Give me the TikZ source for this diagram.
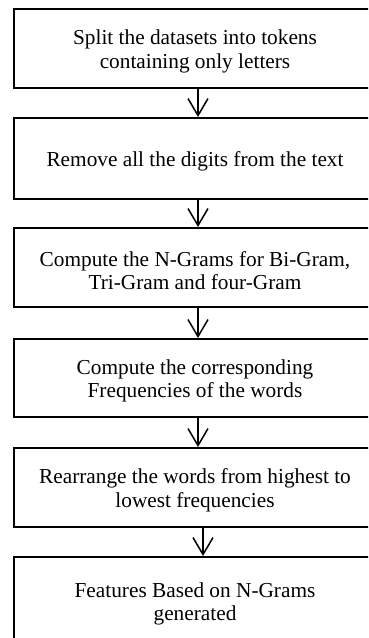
\documentclass[tikz,border=0pt]{standalone}
\usepackage{fontspec}
\setmainfont{Liberation Serif}
\usetikzlibrary{arrows.meta}
\begin{document}
\begin{tikzpicture}[x=1pt,y=1pt,
  stepbox/.style={draw, line width=2pt, rectangle, minimum width=362pt,
    minimum height=79pt, inner sep=0pt},
  steptext/.style={align=center, inner sep=0pt,
    font=\fontsize{21.3}{23.5}\selectfont},
  flow/.style={line width=1.5pt,
    -{Straight Barb[length=17pt,width=20pt,line width=1.5pt]}}]
\useasboundingbox (0,-638) rectangle (368,0);
\clip (0,-638) rectangle (368,0);

% processing step frames, top to bottom
\node[stepbox] (b1) at (195,-48.5) {};
\node[stepbox, minimum height=81pt] (b2) at (195,-158.5) {};
\node[stepbox] (b3) at (195,-267.5) {};
\node[stepbox, minimum height=78pt] (b4) at (195,-378) {};
\node[stepbox] (b5) at (195,-487.5) {};
\node[stepbox, minimum height=84pt] (b6) at (195,-599) {};

% step descriptions
\node[steptext] (t1) at ([yshift=-3pt]b1.center) {Split the datasets into tokens\\containing only letters};
\node[steptext] (t2) at ([yshift=-3pt]b2.center) {Remove all the digits from the text};
\node[steptext] (t3) at ([yshift=-3pt]b3.center) {Compute the N-Grams for Bi-Gram,\\Tri-Gram and four-Gram};
\node[steptext] (t4) at ([yshift=-3pt]b4.center) {Compute the corresponding\\Frequencies of the words};
\node[steptext] (t5) at ([yshift=-3pt]b5.center) {Rearrange the words from highest to\\lowest frequencies};
\node[steptext] (t6) at ([yshift=-5pt]b6.center) {Features Based on N-Grams\\generated};

% connectors between the steps
\draw[flow] ([xshift=3pt]b1.south) -- ([xshift=3pt]b2.north);
\draw[flow] ([xshift=3pt]b2.south) -- ([xshift=3pt]b3.north);
\draw[flow] ([xshift=3pt]b3.south) -- ([xshift=3pt]b4.north);
\draw[flow] ([xshift=3pt]b4.south) -- ([xshift=3pt]b5.north);
\draw[flow] ([xshift=8pt]b5.south) -- ([xshift=8pt]b6.north);
\end{tikzpicture}
\end{document}
